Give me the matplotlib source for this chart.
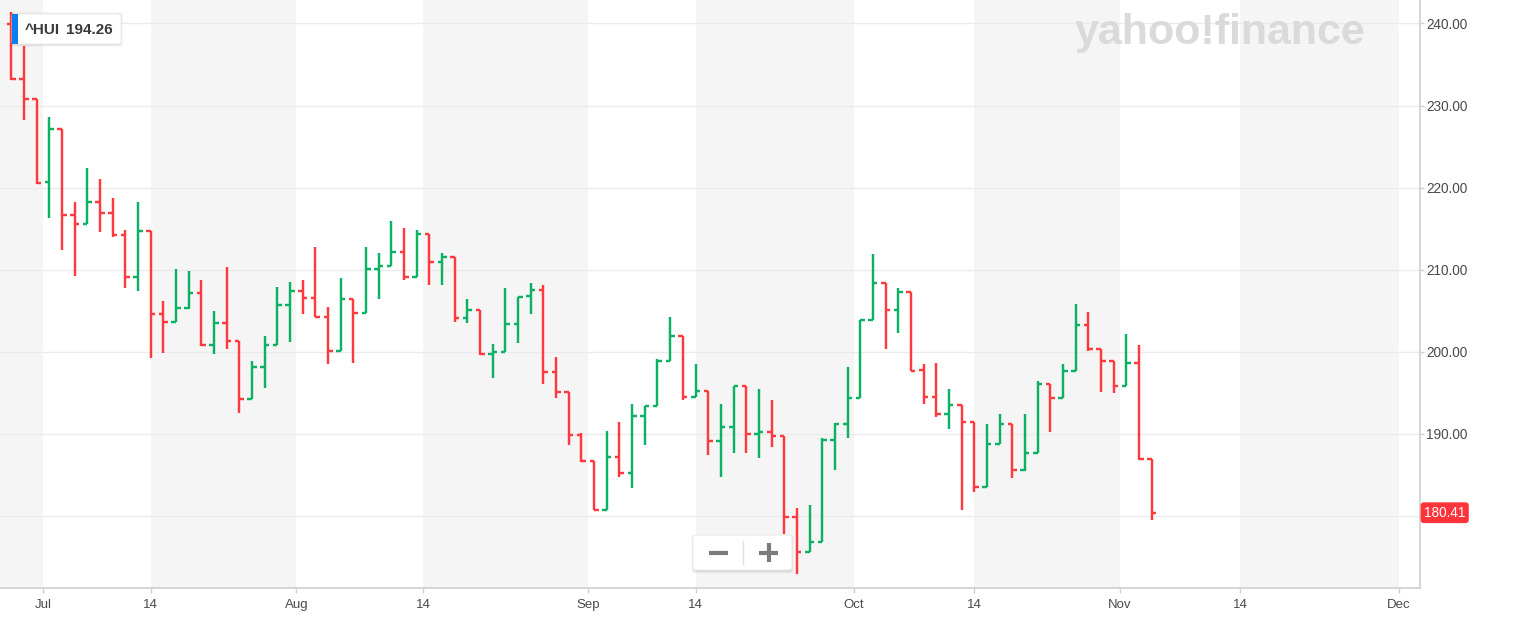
import matplotlib
matplotlib.use("Agg")
import matplotlib.pyplot as plt
import matplotlib.transforms as mtransforms
from matplotlib.patches import FancyBboxPatch, Rectangle
from matplotlib.lines import Line2D
import numpy as np
import pandas as pd

plt.rcParams['font.family'] = ['Liberation Sans', 'DejaVu Sans']

# ---------------- data ----------------
dates = [
    "2022-06-28", "2022-06-29", "2022-06-30",
    "2022-07-01", "2022-07-05", "2022-07-06", "2022-07-07", "2022-07-08",
    "2022-07-11", "2022-07-12", "2022-07-13", "2022-07-14", "2022-07-15",
    "2022-07-18", "2022-07-19", "2022-07-20", "2022-07-21", "2022-07-22",
    "2022-07-25", "2022-07-26", "2022-07-27", "2022-07-28", "2022-07-29",
    "2022-08-01", "2022-08-02", "2022-08-03", "2022-08-04", "2022-08-05",
    "2022-08-08", "2022-08-09", "2022-08-10", "2022-08-11", "2022-08-12",
    "2022-08-15", "2022-08-16", "2022-08-17", "2022-08-18", "2022-08-19",
    "2022-08-22", "2022-08-23", "2022-08-24", "2022-08-25", "2022-08-26",
    "2022-08-29", "2022-08-30", "2022-08-31", "2022-09-01", "2022-09-02",
    "2022-09-06", "2022-09-07", "2022-09-08", "2022-09-09",
    "2022-09-12", "2022-09-13", "2022-09-14", "2022-09-15", "2022-09-16",
    "2022-09-19", "2022-09-20", "2022-09-21", "2022-09-22", "2022-09-23",
    "2022-09-26", "2022-09-27", "2022-09-28", "2022-09-29", "2022-09-30",
    "2022-10-03", "2022-10-04", "2022-10-05", "2022-10-06", "2022-10-07",
    "2022-10-10", "2022-10-11", "2022-10-12", "2022-10-13", "2022-10-14",
    "2022-10-17", "2022-10-18", "2022-10-19", "2022-10-20", "2022-10-21",
    "2022-10-24", "2022-10-25", "2022-10-26", "2022-10-27", "2022-10-28",
    "2022-10-31", "2022-11-01", "2022-11-02", "2022-11-03",
]
opens = [
    239.9, 233.2, 230.8,
    220.7, 227.2, 216.7, 215.6, 218.2,
    216.9, 214.2, 209.1, 214.7, 204.6,
    203.6, 205.4, 207.2, 200.8, 203.5,
    201.3, 194.3, 198.2, 200.8, 205.7,
    207.4, 206.6, 204.3, 200.15, 206.4,
    204.7, 210.1, 210.4, 212.2, 209.1,
    214.3, 210.9, 211.6, 204.1, 205.1,
    199.8, 200.0, 203.4, 206.8, 207.5,
    197.5, 195.15, 189.9, 186.7, 180.7,
    187.2, 185.3, 192.2, 193.4,
    198.9, 201.9, 194.5, 195.2, 189.1,
    190.8, 195.85, 190.0, 190.3, 189.7,
    179.9, 175.65, 176.9, 189.3, 191.2,
    194.4, 203.9, 208.4, 205.1, 207.3,
    197.8, 194.5, 192.4, 193.5, 191.4,
    183.6, 188.8, 191.2, 185.6, 187.7,
    196.1, 194.4, 197.7, 203.3, 200.3,
    198.9, 195.8, 198.7, 186.9,
]
highs = [
    241.4, 237.2, 230.8,
    228.6, 227.2, 218.3, 222.4, 221.0,
    218.8, 214.85, 218.2, 214.7, 206.2,
    210.1, 209.8, 208.7, 205.0, 210.3,
    201.3, 198.9, 201.9, 207.9, 208.55,
    208.8, 212.8, 205.5, 209.0, 206.4,
    212.8, 212.1, 215.9, 215.1, 214.85,
    214.3, 212.0, 211.6, 206.4, 205.1,
    201.0, 207.8, 206.7, 208.4, 208.2,
    199.4, 195.15, 190.1, 186.7, 190.4,
    191.5, 193.65, 193.4, 199.1,
    204.2, 201.9, 198.5, 195.2, 193.6,
    195.85, 195.85, 195.45, 194.1, 189.7,
    181.0, 181.3, 189.5, 191.3, 198.2,
    203.9, 211.9, 208.4, 207.75, 207.3,
    198.5, 198.7, 195.5, 193.5, 191.4,
    191.2, 192.4, 191.2, 192.4, 196.4,
    196.1, 198.5, 205.8, 204.9, 200.3,
    198.9, 202.2, 200.8, 186.9,
]
lows = [
    233.1, 228.3, 220.5,
    216.3, 212.4, 209.2, 215.6, 214.6,
    214.0, 207.75, 207.4, 199.2, 199.9,
    203.6, 205.2, 200.7, 199.7, 200.3,
    192.5, 194.3, 195.6, 200.8, 201.2,
    204.6, 204.2, 198.5, 200.15, 198.6,
    204.7, 206.5, 210.4, 208.8, 209.1,
    208.1, 208.2, 203.7, 203.5, 199.6,
    196.8, 200.0, 201.05, 204.6, 196.1,
    194.4, 188.7, 186.6, 180.7, 180.7,
    184.8, 183.4, 188.7, 193.4,
    198.9, 194.1, 194.5, 187.4, 184.8,
    187.65, 187.65, 187.05, 188.45, 177.8,
    172.9, 175.65, 176.9, 185.6, 189.55,
    194.4, 203.9, 200.3, 202.3, 197.7,
    193.6, 192.1, 190.6, 180.7, 182.97,
    183.6, 188.8, 184.6, 185.5, 187.7,
    190.2, 194.4, 197.7, 200.1, 195.15,
    195.0, 195.8, 186.8, 179.5,
]
closes = [
    233.2, 230.8, 220.6,
    227.2, 216.7, 215.6, 218.2, 216.9,
    214.2, 209.1, 214.7, 204.6, 203.6,
    205.4, 207.2, 200.8, 203.5, 201.3,
    194.3, 198.2, 200.8, 205.7, 207.4,
    206.6, 204.3, 200.15, 206.4, 204.7,
    210.1, 210.4, 212.2, 209.1, 214.3,
    210.9, 211.6, 204.1, 205.1, 199.8,
    200.0, 203.4, 206.7, 207.5, 197.5,
    195.15, 189.9, 186.7, 180.7, 187.2,
    185.3, 192.2, 193.4, 198.9,
    201.9, 194.5, 195.2, 189.1, 190.8,
    195.85, 190.0, 190.3, 189.7, 179.9,
    175.65, 176.9, 189.3, 191.2, 194.4,
    203.9, 208.4, 205.1, 207.3, 197.7,
    194.5, 192.4, 193.5, 191.4, 183.6,
    188.8, 191.2, 185.6, 187.7, 196.1,
    194.4, 197.7, 203.3, 200.3, 198.9,
    195.8, 198.7, 186.9, 180.41,
]

symbol = "^HUI"
badge_value = "194.26"
last_price = 180.41

y_ticks = [180, 190, 200, 210, 220, 230, 240]
x_tick_dates = ["2022-07-01", "2022-07-14", "2022-08-01", "2022-08-14",
                "2022-09-01", "2022-09-14", "2022-10-01", "2022-10-14",
                "2022-11-01", "2022-11-14", "2022-12-01"]
x_tick_labels = ["Jul", "14", "Aug", "14", "Sep", "14", "Oct", "14",
                 "Nov", "14", "Dec"]

# ---------------- colours ----------------
RED = "#ff3a3f"
GREEN = "#0db163"
BAND = "#f5f5f5"
GRID = "#ebebeb"
AXIS = "#cfcfcf"
LABEL = "#4a4a4a"

# ---------------- trading calendar ----------------
cal = pd.DatetimeIndex(list(pd.to_datetime(dates)) +
                       list(pd.bdate_range(pd.Timestamp(dates[-1]) + pd.Timedelta(days=1),
                                           "2022-12-31")))


def tick_pos(d, label):
    d = pd.Timestamp(d)
    i = cal.searchsorted(d)
    if label == "14" and cal[i] == d:
        return float(i)
    return i - 0.5


tick_x = [tick_pos(d, l) for d, l in zip(x_tick_dates, x_tick_labels)]

W, H = 1525, 625
fig = plt.figure(figsize=(W / 100, H / 100), dpi=100)
fig.patch.set_facecolor("white")
ax = fig.add_axes([0, 37 / H, 1420 / W, 588 / H])
ax.set_facecolor("white")

x = np.arange(len(dates), dtype=float)
o = np.array(opens); h = np.array(highs); l = np.array(lows); c = np.array(closes)
cols = [GREEN if cc >= oo else RED for oo, cc in zip(o, c)]

xmin, xmax = -0.892, 111.18
ax.set_xlim(xmin, xmax)
ax.set_ylim(171.24, 242.86)

# alternating background bands
edges = [xmin] + tick_x + [xmax]
for k in range(len(edges) - 1):
    if k % 2 == 0:
        ax.axvspan(edges[k], edges[k + 1], color=BAND, lw=0, zorder=0)

ax.set_yticks(y_ticks)
ax.yaxis.grid(True, color=GRID, lw=1, zorder=1)
ax.set_axisbelow(True)

lw = 1.75
tick_len = 0.36
ax.vlines(x, l, h, colors=cols, lw=lw, zorder=3, capstyle="butt")
ax.hlines(o, x - tick_len, x, colors=cols, lw=lw, zorder=3)
ax.hlines(c, x, x + tick_len, colors=cols, lw=lw, zorder=3)

# axes styling
for s in ["top", "left"]:
    ax.spines[s].set_visible(False)
ax.spines["right"].set_color(AXIS)
ax.spines["bottom"].set_color(AXIS)
ax.spines["right"].set_linewidth(1.2)
ax.spines["bottom"].set_linewidth(1.2)
ax.yaxis.tick_right()
ax.set_yticklabels(["" if v == 180 else f"{v:.2f}" for v in y_ticks])
ax.tick_params(axis="y", length=3, width=1, color=AXIS, pad=1.5,
               labelsize=9.8, labelcolor=LABEL)
ax.set_xticks(tick_x)
ax.set_xticklabels(x_tick_labels)
ax.tick_params(axis="x", length=3.6, width=1, color=AXIS, pad=4,
               labelsize=9.5, labelcolor=LABEL)

# last price tag
trans = mtransforms.blended_transform_factory(ax.transAxes, ax.transData)
ax.text(1.0 + 4 / 1420, last_price, f"{last_price:.2f}", transform=trans,
        ha="left", va="center", color="white", fontsize=9.8, zorder=6,
        bbox=dict(boxstyle="round,pad=0.25,rounding_size=0.25", fc="#ff333a", ec="none"),
        clip_on=False)


def fx(px):
    return px / W


def fy(py):
    return 1 - py / H


# watermark
fig.text(fx(1220), fy(33), "yahoo!finance", ha="center", va="center",
         fontsize=31, fontweight="bold", color="#dadada", zorder=2)

# symbol badge (top left)
for k, a in enumerate([0.05, 0.04, 0.03]):
    sh = FancyBboxPatch((fx(12 - k), fy(45 + k)), fx(109 + 2 * k), (31 + 2 * k) / H,
                        boxstyle="round,pad=0,rounding_size=0.003",
                        transform=fig.transFigure, fc="black", ec="none", alpha=a, zorder=7)
    fig.patches.append(sh)
badge = FancyBboxPatch((fx(12), fy(44)), fx(109), 30 / H,
                       boxstyle="round,pad=0,rounding_size=0.003",
                       transform=fig.transFigure, fc="white", ec="#e8e8e8", lw=0.6, zorder=8)
fig.patches.append(badge)
strip = Rectangle((fx(12), fy(44)), fx(6), 30 / H, transform=fig.transFigure,
                  fc="#0a7ff0", ec="none", zorder=9)
fig.patches.append(strip)
fig.text(fx(25), fy(29.5), symbol, ha="left", va="center", fontsize=11,
         fontweight="bold", color="#3a3a3a", zorder=10)
fig.text(fx(66), fy(29.5), badge_value, ha="left", va="center", fontsize=11,
         fontweight="bold", color="#3a3a3a", zorder=10)

# zoom buttons
for k, a in enumerate([0.05, 0.035, 0.02]):
    sh = FancyBboxPatch((fx(693 - k), fy(571 + k + 1)), fx(99 + 2 * k), (35 + 2 * k) / H,
                        boxstyle="round,pad=0,rounding_size=0.003",
                        transform=fig.transFigure, fc="black", ec="none", alpha=a, zorder=7)
    fig.patches.append(sh)
zb = FancyBboxPatch((fx(693), fy(570)), fx(99), 35 / H,
                    boxstyle="round,pad=0,rounding_size=0.003",
                    transform=fig.transFigure, fc="white", ec="#e6e6e6", lw=0.6, zorder=8)
fig.patches.append(zb)
fig.lines.append(Line2D([fx(743), fx(743)], [fy(541), fy(564)], transform=fig.transFigure,
                        color="#e0e0e0", lw=1, zorder=9))
fig.lines.append(Line2D([fx(709), fx(728)], [fy(552.5), fy(552.5)], transform=fig.transFigure,
                        color="#7b7b7b", lw=3, zorder=9, solid_capstyle="butt"))
fig.lines.append(Line2D([fx(759), fx(778)], [fy(552.5), fy(552.5)], transform=fig.transFigure,
                        color="#7b7b7b", lw=3, zorder=9, solid_capstyle="butt"))
fig.lines.append(Line2D([fx(768.5), fx(768.5)], [fy(543), fy(562)], transform=fig.transFigure,
                        color="#7b7b7b", lw=3, zorder=9, solid_capstyle="butt"))

fig.savefig("out.png", dpi=100, facecolor="white")
